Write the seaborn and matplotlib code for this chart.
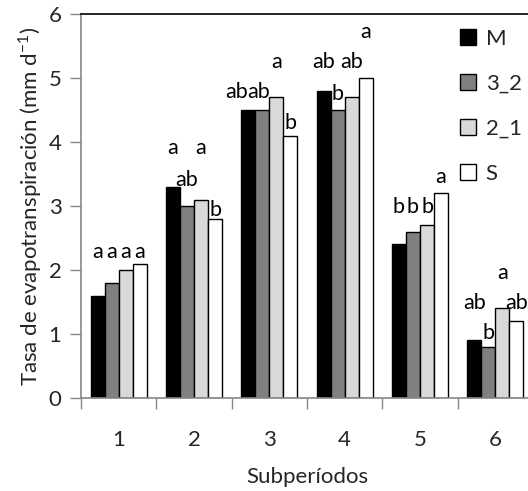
import matplotlib
matplotlib.use("Agg")
import matplotlib.pyplot as plt
import seaborn as sns
import pandas as pd
import numpy as np

periods = ["1", "2", "3", "4", "5", "6"]
treatments = ["M", "3_2", "2_1", "S"]
vals_M = [1.6, 3.3, 4.5, 4.8, 2.4, 0.9]
vals_32 = [1.8, 3.0, 4.5, 4.5, 2.6, 0.8]
vals_21 = [2.0, 3.1, 4.7, 4.7, 2.7, 1.4]
vals_S = [2.1, 2.8, 4.1, 5.0, 3.2, 1.2]
colors = ["#000000", "#808080", "#d9d9d9", "#ffffff"]

# significance letters (per treatment, per period) and their label heights
let_M = ["a", "a", "ab", "ab", "b", "ab"]
let_32 = ["a", "ab", "ab", "b", "b", "b"]
let_21 = ["a", "a", "a", "ab", "b", "a"]
let_S = ["a", "b", "b", "a", "a", "ab"]
lab_y_M = [2.28, 3.90, 4.78, 5.25, 2.98, 1.48]
lab_y_32 = [2.28, 3.41, 4.78, 4.75, 2.98, 1.02]
lab_y_21 = [2.28, 3.90, 5.25, 5.25, 2.98, 1.95]
lab_y_S = [2.28, 2.94, 4.30, 5.72, 3.45, 1.48]

df = pd.DataFrame({
    "Subperíodo": periods * 4,
    "Tratamiento": sum([[t] * len(periods) for t in treatments], []),
    "ET": vals_M + vals_32 + vals_21 + vals_S,
})

sns.set_style("white")
plt.rcParams["font.family"] = ["Lato", "DejaVu Sans"]
plt.rcParams["mathtext.fontset"] = "custom"
plt.rcParams["mathtext.rm"] = "Lato"

fig = plt.figure(figsize=(5.28, 4.91), dpi=100)
ax = fig.add_axes([81 / 528, 93 / 491, 452 / 528, 384 / 491])

sns.barplot(data=df, x="Subperíodo", y="ET", hue="Tratamiento",
            order=periods, hue_order=treatments, palette=colors,
            width=0.745, edgecolor="black", linewidth=1.0, saturation=1,
            ax=ax, legend=True)

ax.set_ylim(0, 6)
ax.set_xlim(-0.5, 5.5)
ax.set_yticks(range(0, 7))
fs = 16

# letters
letters = [let_M, let_32, let_21, let_S]
heights = [lab_y_M, lab_y_32, lab_y_21, lab_y_S]
bars = [p for p in ax.patches if p.get_height() > 0][:24]
for h_i in range(4):
    for p_i in range(6):
        p = bars[h_i * 6 + p_i]
        xc = p.get_x() + p.get_width() / 2
        if p_i == 2 and h_i == 0:
            xc -= 0.154
        if p_i == 2 and h_i == 1:
            xc -= 0.05
        ax.text(xc, heights[h_i][p_i], letters[h_i][p_i], ha="center",
                va="center", fontsize=fs - 0.5, color="black")

# ticks
ax.set_xticks(range(6))
ax.set_xticklabels(periods)
ax.set_xticks(np.arange(-0.5, 6.0, 1.0), minor=True)
ax.tick_params(axis="x", which="major", length=0, pad=23, labelsize=fs)
ax.tick_params(axis="x", which="minor", length=8, width=1, color="#868686",
               bottom=True, direction="out")
ax.tick_params(axis="y", which="major", length=8, width=1, color="#868686",
               left=True, pad=6, labelsize=fs, direction="out")

for s in ["left", "bottom"]:
    ax.spines[s].set_color("#868686")
    ax.spines[s].set_linewidth(1.2)
ax.spines["top"].set_color("black")
ax.spines["top"].set_linewidth(1.2)
ax.spines["right"].set_color("black")

ax.set_xlabel("Subperíodos", fontsize=fs, labelpad=12)
ax.set_ylabel(r"Tasa de evapotranspiración (mm d$^{\mathregular{-1}}$)",
              fontsize=fs, labelpad=3)

handles, labels = ax.get_legend_handles_labels()
ax.legend(handles, labels, loc="upper left",
          bbox_to_anchor=(460 / 528, 1 - 29 / 491),
          bbox_transform=fig.transFigure, frameon=False, fontsize=fs,
          handlelength=0.7, handleheight=0.7, handletextpad=0.45,
          labelspacing=1.12, borderpad=0, borderaxespad=0)

fig.savefig("out.png", dpi=100)
